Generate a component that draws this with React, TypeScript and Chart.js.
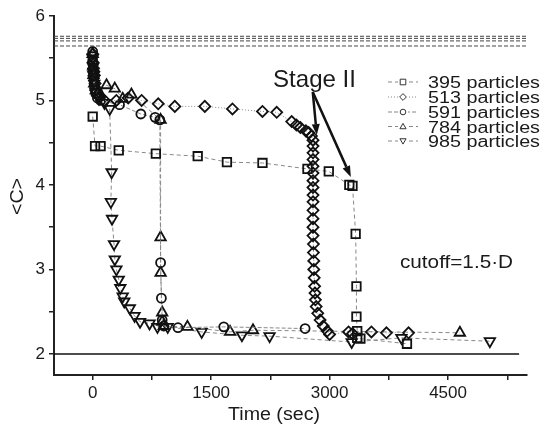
import React, { useEffect, useRef } from 'react';
import { Chart, registerables } from 'chart.js';

Chart.register(...registerables);

// ---------- data ----------
const seriesNames = ['395 particles', '513 particles', '591 particles', '784 particles', '985 particles'];

const t395 = [0, 30, 100, 330, 800, 1330, 1700, 2150, 2720, 2990, 3250, 3290, 3330, 3340, 3340, 3350, 3350, 3390, 3980];
const c395 = [4.81, 4.46, 4.46, 4.41, 4.37, 4.34, 4.27, 4.26, 4.19, 4.16, 4.0, 3.99, 3.42, 2.8, 2.44, 2.27, 2.19, 2.18, 2.12];

const t513 = [0, 5, 10, 15, 20, 30, 40, 60, 90, 150, 300, 450, 620, 830, 1040, 1420, 1770, 2150, 2330, 2520, 2580, 2630, 2700, 2735, 2770, 2790,
  2790, 2790, 2790, 2790, 2790, 2790, 2790, 2790, 2790, 2790, 2790, 2790, 2790, 2795, 2795, 2800, 2800, 2805, 2810, 2815, 2820, 2830, 2850, 2880, 2920, 2970, 3000,
  3240, 3290, 3530, 3720, 4000];
const c513 = [5.55, 5.45, 5.38, 5.34, 5.3, 5.2, 5.12, 5.07, 5.04, 5.0, 5.0, 5.03, 5.0, 4.96, 4.93, 4.93, 4.9, 4.87, 4.86, 4.75, 4.71, 4.68, 4.64, 4.62, 4.58, 4.53,
  4.46, 4.38, 4.3, 4.22, 4.14, 4.05, 3.97, 3.88, 3.8, 3.7, 3.6, 3.5, 3.4, 3.3, 3.2, 3.1, 3.0, 2.9, 2.8, 2.72, 2.64, 2.56, 2.48, 2.4, 2.33, 2.27, 2.23,
  2.26, 2.24, 2.26, 2.25, 2.25];

const t591 = [0, 0, 0, 5, 5, 10, 15, 20, 25, 40, 60, 100, 340, 610, 790, 850, 860, 870, 880, 900, 1080, 1660, 2690];
const c591 = [5.58, 5.52, 5.47, 5.42, 5.36, 5.3, 5.24, 5.19, 5.14, 5.08, 5.03, 5.0, 4.95, 4.84, 4.8, 4.77, 3.08, 2.66, 2.4, 2.33, 2.31, 2.32, 2.3];

const t784 = [0, 5, 10, 20, 40, 80, 175, 280, 380, 490, 860, 860, 860, 880, 880, 900, 1200, 1740, 2030, 4650];
const c784 = [5.55, 5.4, 5.3, 5.2, 5.12, 5.1, 5.18, 5.14, 5.02, 5.07, 4.77, 3.38, 2.96, 2.49, 2.38, 2.33, 2.32, 2.26, 2.28, 2.25];

const t985 = [0, 5, 10, 15, 20, 40, 80, 150, 215, 240, 230, 245, 270, 280, 300, 330, 350, 380, 400, 470, 530, 600, 720, 820, 950, 1380, 1890, 2240, 3280, 3910, 5030];
const c985 = [5.5, 5.4, 5.3, 5.25, 5.2, 5.1, 5.02, 4.97, 4.9, 4.15, 3.8, 3.6, 3.3, 3.12, 3.0, 2.88, 2.78, 2.68, 2.62, 2.54, 2.45, 2.38, 2.36, 2.32, 2.32, 2.26, 2.22, 2.21, 2.14, 2.19, 2.15];

const xTickValues = [0, 750, 1500, 2250, 3000, 3750, 4500, 5250];
const xTickLabels = [0, 1500, 3000, 4500];
const yTickValues = [2, 2.5, 3, 3.5, 4, 4.5, 5, 5.5, 6];
const yTickLabels = [2, 3, 4, 5, 6];

const refLevels = [5.76, 5.735, 5.705, 5.645];
const floorLevel = 2;

const arrowStart = { x: 2787, y: 5.1 };
const arrowTips = [{ x: 2838, y: 4.59 }, { x: 3269, y: 4.095 }];

// ---------- styles ----------
const FONT = '"Liberation Sans", Arial, Helvetica, sans-serif';
const INK = '#1a1a1a';
const styles = [
  { pointStyle: 'rect', radius: 6, rotation: 0, dash: [4, 3] },
  { pointStyle: 'rectRot', radius: 5.5, rotation: 0, dash: [1, 2] },
  { pointStyle: 'circle', radius: 4.5, rotation: 0, dash: [4, 2] },
  { pointStyle: 'triangle', radius: 6, rotation: 0, dash: [4, 3] },
  { pointStyle: 'triangle', radius: 6, rotation: 180, dash: [4, 3] },
];
const seriesData = [[t395, c395], [t513, c513], [t591, c591], [t784, c784], [t985, c985]];

function fitText(ctx: CanvasRenderingContext2D, text: string, x: number, y: number, font: string, width: number) {
  ctx.font = font;
  ctx.textAlign = 'left';
  ctx.textBaseline = 'alphabetic';
  const m = ctx.measureText(text).width;
  ctx.save();
  ctx.translate(x, y);
  ctx.scale(width / m, 1);
  ctx.fillText(text, 0, 0);
  ctx.restore();
}

function drawMarker(ctx: CanvasRenderingContext2D, kind: number, x: number, y: number, r: number) {
  ctx.beginPath();
  if (kind === 0) {
    ctx.rect(x - r, y - r, 2 * r, 2 * r);
  } else if (kind === 1) {
    ctx.moveTo(x, y - r * 1.2); ctx.lineTo(x + r * 1.2, y); ctx.lineTo(x, y + r * 1.2); ctx.lineTo(x - r * 1.2, y); ctx.closePath();
  } else if (kind === 2) {
    ctx.arc(x, y, r, 0, Math.PI * 2);
  } else if (kind === 3) {
    ctx.moveTo(x, y - r * 1.1); ctx.lineTo(x + r * 1.1, y + r * 0.8); ctx.lineTo(x - r * 1.1, y + r * 0.8); ctx.closePath();
  } else {
    ctx.moveTo(x, y + r * 1.1); ctx.lineTo(x + r * 1.1, y - r * 0.8); ctx.lineTo(x - r * 1.1, y - r * 0.8); ctx.closePath();
  }
  ctx.stroke();
}

const overlay = {
  id: 'overlay',
  afterDraw(chart: any) {
    const ctx: CanvasRenderingContext2D = chart.ctx;
    const xs = chart.scales.x;
    const ys = chart.scales.y;
    ctx.save();
    ctx.fillStyle = INK;

    // axis titles
    fitText(ctx, 'Time (sec)', 228, 420, '18px ' + FONT, 92);
    ctx.save();
    ctx.translate(23, 215);
    ctx.rotate(-Math.PI / 2);
    fitText(ctx, '<C>', 0, 0, '18px ' + FONT, 37);
    ctx.restore();

    // annotations
    fitText(ctx, 'Stage II', 273, 87, '24px ' + FONT, 83);
    fitText(ctx, 'cutoff=1.5\u00B7D', 400, 268, '19px ' + FONT, 113);

    // arrows
    const sx = xs.getPixelForValue(arrowStart.x);
    const sy = ys.getPixelForValue(arrowStart.y);
    ctx.strokeStyle = '#111';
    ctx.fillStyle = '#111';
    ctx.lineWidth = 2.5;
    arrowTips.forEach((tip) => {
      const tx = xs.getPixelForValue(tip.x);
      const ty = ys.getPixelForValue(tip.y);
      const ang = Math.atan2(ty - sy, tx - sx);
      const hl = 11, hw = 4;
      const bx = tx - Math.cos(ang) * hl;
      const by = ty - Math.sin(ang) * hl;
      ctx.beginPath();
      ctx.moveTo(sx, sy);
      ctx.lineTo(bx, by);
      ctx.stroke();
      ctx.beginPath();
      ctx.moveTo(tx, ty);
      ctx.lineTo(bx + Math.sin(ang) * hw, by - Math.cos(ang) * hw);
      ctx.lineTo(bx - Math.sin(ang) * hw, by + Math.cos(ang) * hw);
      ctx.closePath();
      ctx.fill();
    });

    // legend
    const rows = [82, 97, 112, 126.5, 141];
    ctx.font = '16px ' + FONT;
    const scaleW = 112 / ctx.measureText(seriesNames[0]).width;
    seriesNames.forEach((name, i) => {
      const y = rows[i];
      ctx.strokeStyle = '#888';
      ctx.lineWidth = 1;
      ctx.setLineDash(styles[i].dash);
      ctx.beginPath();
      ctx.moveTo(388, y);
      ctx.lineTo(418, y);
      ctx.stroke();
      ctx.setLineDash([]);
      ctx.fillStyle = '#fff';
      ctx.fillRect(398, y - 4.5, 10, 9);
      ctx.strokeStyle = '#333';
      ctx.lineWidth = 1;
      drawMarker(ctx, i, 403, y, 2.8);
      ctx.fillStyle = INK;
      ctx.font = '16px ' + FONT;
      const w = ctx.measureText(name).width * scaleW;
      fitText(ctx, name, 428, y + 6, '16px ' + FONT, w);
    });
    ctx.restore();
  },
};

export default function App() {
  const ref = useRef<HTMLCanvasElement | null>(null);

  useEffect(() => {
    if (!ref.current) return;
    const datasets: any[] = [];
    refLevels.forEach((lv) => {
      datasets.push({
        data: [{ x: -490, y: lv }, { x: 5500, y: lv }],
        showLine: true,
        borderColor: '#444',
        borderWidth: 1,
        borderDash: [4, 2],
        pointRadius: 0,
      });
    });
    datasets.push({
      data: [{ x: -490, y: floorLevel }, { x: 5400, y: floorLevel }],
      showLine: true,
      borderColor: '#111',
      borderWidth: 1.5,
      pointRadius: 0,
    });
    seriesData.forEach(([ts, cs], i) => {
      const st = styles[i];
      datasets.push({
        label: seriesNames[i],
        data: ts.map((t, k) => ({ x: t, y: cs[k] })),
        showLine: true,
        borderColor: '#888',
        borderWidth: 1,
        borderDash: st.dash,
        pointStyle: st.pointStyle,
        pointRadius: st.radius,
        pointRotation: st.rotation,
        pointBorderColor: '#111',
        pointBackgroundColor: 'rgba(255,255,255,0)',
        pointBorderWidth: 1.8,
      });
    });

    const tickFont = { family: FONT, size: 17 };
    const chart = new Chart(ref.current, {
      type: 'scatter',
      data: { datasets },
      options: {
        responsive: false,
        animation: false,
        layout: { padding: { top: 16, right: 15, left: 0, bottom: 0 }, autoPadding: false },
        plugins: { legend: { display: false }, tooltip: { enabled: false } },
        scales: {
          x: {
            type: 'linear',
            min: -490,
            max: 5500,
            afterFit: (s: any) => { s.height = 51; },
            afterBuildTicks: (s: any) => { s.ticks = xTickValues.map((v) => ({ value: v })); },
            ticks: {
              font: tickFont,
              color: INK,
              padding: 3,
              maxRotation: 0,
              autoSkip: false,
              callback: (v: any) => (xTickLabels.includes(Number(v)) ? String(v) : ''),
            },
            grid: { drawOnChartArea: false, drawTicks: true, tickLength: 5, color: '#222', lineWidth: 1.5 },
            border: { display: true, color: '#222', width: 2 },
          },
          y: {
            type: 'linear',
            min: 1.75,
            max: 6,
            afterFit: (s: any) => { s.width = 54; },
            afterBuildTicks: (s: any) => { s.ticks = yTickValues.map((v) => ({ value: v })); },
            ticks: {
              font: tickFont,
              color: INK,
              padding: 4,
              autoSkip: false,
              callback: (v: any) => (yTickLabels.includes(Number(v)) ? String(v) : ''),
            },
            grid: { drawOnChartArea: false, drawTicks: true, tickLength: 5, color: '#222', lineWidth: 1.5 },
            border: { display: true, color: '#222', width: 2 },
          },
        },
      },
      plugins: [overlay],
    } as any);
    return () => chart.destroy();
  }, []);

  return (
    <div style={{ position: 'absolute', left: 0, top: 0, width: 542, height: 426, background: '#fff' }}>
      <canvas ref={ref} width={542} height={426} style={{ display: 'block' }} />
    </div>
  );
}
